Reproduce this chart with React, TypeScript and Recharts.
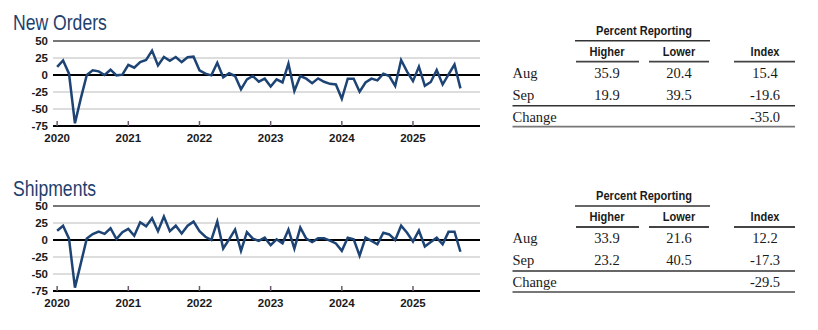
import React from 'react';
import { LineChart, Line, XAxis, YAxis, CartesianGrid, ReferenceLine } from 'recharts';

const years = ['2020', '2021', '2022', '2023', '2024', '2025'];
const yearTicks = [0, 12, 24, 36, 48, 60];
const yTicks = [-75, -50, -25, 0, 25, 50];

const newOrders = [
  12, 21.5, 2, -71, -34, 0, 7, 5.4, 0, 7.8, -0.5, 0.5,
  15, 10.8, 19, 22, 35.8, 14, 26.5, 21, 26.5, 19, 26, 27,
  6.9, 2, -0.5, 18, -3.4, 2.5, -1.5, -21, -6.4, -1.5, -9.8, -5.4,
  -17, -6.4, -11, 16.7, -23.5, -1.5, -5.4, -12, -5, -10, -13, -14,
  -35, -5.4, -5.4, -24.5, -11, -5.4, -8, 2, -1.5, -16, 22, 5,
  -9, 12.3, -16, -10.3, 7.4, -14, 1, 15.4, -19.6,
];

const shipments = [
  13.5, 21, 2, -70, -34, 2.4, 8.7, 12.5, 9, 17.3, 1.4, 11.5,
  16.4, 6.3, 26, 20, 32, 13, 34.6, 13, 21, 9.6, 21, 27,
  13, 4.8, 0, 27, -12.5, 1, 15.4, -16, 11.5, 2, -1.4, 3.4,
  -7.7, 1, -4.8, 15.4, -12.5, 18.3, 2, -3, 2.4, 2.4, -1, -5,
  -16, 3.4, 1, -23, 3.4, -1.4, -6.3, 10.6, 8.2, 0, 21, 10.6,
  -2.4, 14, -9.6, -3, 3.4, -6.3, 12, 12.2, -17.3,
];

const rowLabels = ['Aug', 'Sep', 'Change'];
const newOrdersHigher = ['35.9', '19.9', ''];
const newOrdersLower = ['20.4', '39.5', ''];
const newOrdersIndex = ['15.4', '-19.6', '-35.0'];
const shipmentsHigher = ['33.9', '23.2', ''];
const shipmentsLower = ['21.6', '40.5', ''];
const shipmentsIndex = ['12.2', '-17.3', '-29.5'];

const SANS = "'Liberation Sans', Arial, sans-serif";
const SERIF = "'Liberation Serif', 'Times New Roman', serif";
const LINE_COLOR = '#1d4474';
const TITLE_COLOR = '#1f3f6e';

const NText = ({ x, y, anchor = 'start', size, bold = false, fill = '#1a1a1a', scale = 0.82, children }: any) => (
  <text
    transform={`translate(${x}, ${y}) scale(${scale}, 1)`}
    textAnchor={anchor}
    fontFamily={SANS}
    fontWeight={bold ? 'bold' : 'normal'}
    fontSize={size}
    fill={fill}
  >
    {children}
  </text>
);

const XTick = (props: any) => {
  const { x, y, payload } = props;
  const idx = yearTicks.indexOf(payload.value);
  return (
    <g>
      <line x1={x} x2={x} y1={y} y2={y - 5} stroke="#6b5a6e" strokeWidth={1.5} />
      <text x={x} y={y + 16} textAnchor="middle" fontFamily={SANS} fontWeight="bold" fontSize={11.5} fill="#1a1a1a">
        {years[idx]}
      </text>
    </g>
  );
};

const Chart = ({ values, top }: { values: number[]; top: number }) => {
  const data = values.map((v, i) => ({ m: i, v }));
  return (
    <div style={{ position: 'absolute', left: 0, top }}>
      <LineChart width={490} height={146} data={data} margin={{ top: 41, right: 10, bottom: 0, left: 8 }}>
        <CartesianGrid vertical={false} stroke="#d2d2d2" strokeWidth={1.5} />
        <XAxis
          dataKey="m"
          type="number"
          domain={[-0.7, 71.3]}
          ticks={yearTicks}
          interval={0}
          height={20}
          tickSize={0}
          tickMargin={0}
          tick={<XTick />}
          axisLine={{ stroke: '#000', strokeWidth: 2 }}
          tickLine={false}
          allowDataOverflow
        />
        <YAxis
          type="number"
          domain={[-75, 50]}
          ticks={yTicks}
          interval={0}
          width={45}
          axisLine={false}
          tickLine={false}
          tickSize={0}
          tickMargin={5}
          tick={{ fontFamily: SANS, fontWeight: 'bold', fontSize: 11.5, fill: '#1a1a1a' }}
        />
        <ReferenceLine y={50} stroke="#555" strokeWidth={1.5} />
        <ReferenceLine y={0} stroke="#000" strokeWidth={2} />
        <Line
          type="linear"
          dataKey="v"
          stroke={LINE_COLOR}
          strokeWidth={2.5}
          dot={false}
          isAnimationActive={false}
        />
      </LineChart>
    </div>
  );
};

const Table = ({ dy, higher, lower, index }: { dy: number; higher: string[]; lower: string[]; index: string[] }) => {
  const rowBase = [77.5, 100, 121.5];
  const val = { fontFamily: SERIF, fontSize: 14.5, fill: '#1a1a1a' };
  return (
    <g transform={`translate(0, ${dy})`}>
      <NText x={644} y={35} anchor="middle" size={13.5} bold>Percent Reporting</NText>
      <line x1={575} x2={710} y1={40.7} y2={40.7} stroke="#333" strokeWidth={1.5} />
      <NText x={607} y={55.5} anchor="middle" size={13.5} bold>Higher</NText>
      <NText x={679} y={55.5} anchor="middle" size={13.5} bold>Lower</NText>
      <NText x={765} y={55.5} anchor="middle" size={13.5} bold>Index</NText>
      <line x1={576} x2={639} y1={61.7} y2={61.7} stroke="#444" strokeWidth={1.8} />
      <line x1={649} x2={709} y1={61.7} y2={61.7} stroke="#444" strokeWidth={1.8} />
      <line x1={734} x2={795} y1={61.7} y2={61.7} stroke="#444" strokeWidth={1.8} />
      {rowLabels.map((r, i) => (
        <g key={r}>
          <text x={512.5} y={rowBase[i]} {...val}>{r}</text>
          <text x={607} y={rowBase[i]} textAnchor="middle" {...val}>{higher[i]}</text>
          <text x={679} y={rowBase[i]} textAnchor="middle" {...val}>{lower[i]}</text>
          <text x={765} y={rowBase[i]} textAnchor="middle" {...val}>{index[i]}</text>
        </g>
      ))}
      <line x1={512.5} x2={795} y1={105.7} y2={105.7} stroke="#333" strokeWidth={1.5} />
      <line x1={512.5} x2={795} y1={126.7} y2={126.7} stroke="#777" strokeWidth={1.8} />
    </g>
  );
};

export default function App() {
  return (
    <div style={{ position: 'absolute', left: 0, top: 0, width: 818, height: 330, background: '#fff', overflow: 'hidden' }}>
      <Chart values={newOrders} top={0} />
      <Chart values={shipments} top={165} />
      <svg width={818} height={330} style={{ position: 'absolute', left: 0, top: 0, pointerEvents: 'none' }}>
        <NText x={13} y={30} size={22} fill={TITLE_COLOR} scale={0.8}>New Orders</NText>
        <NText x={13} y={196} size={22} fill={TITLE_COLOR} scale={0.8}>Shipments</NText>
        <Table dy={0} higher={newOrdersHigher} lower={newOrdersLower} index={newOrdersIndex} />
        <Table dy={165.3} higher={shipmentsHigher} lower={shipmentsLower} index={shipmentsIndex} />
      </svg>
    </div>
  );
}
